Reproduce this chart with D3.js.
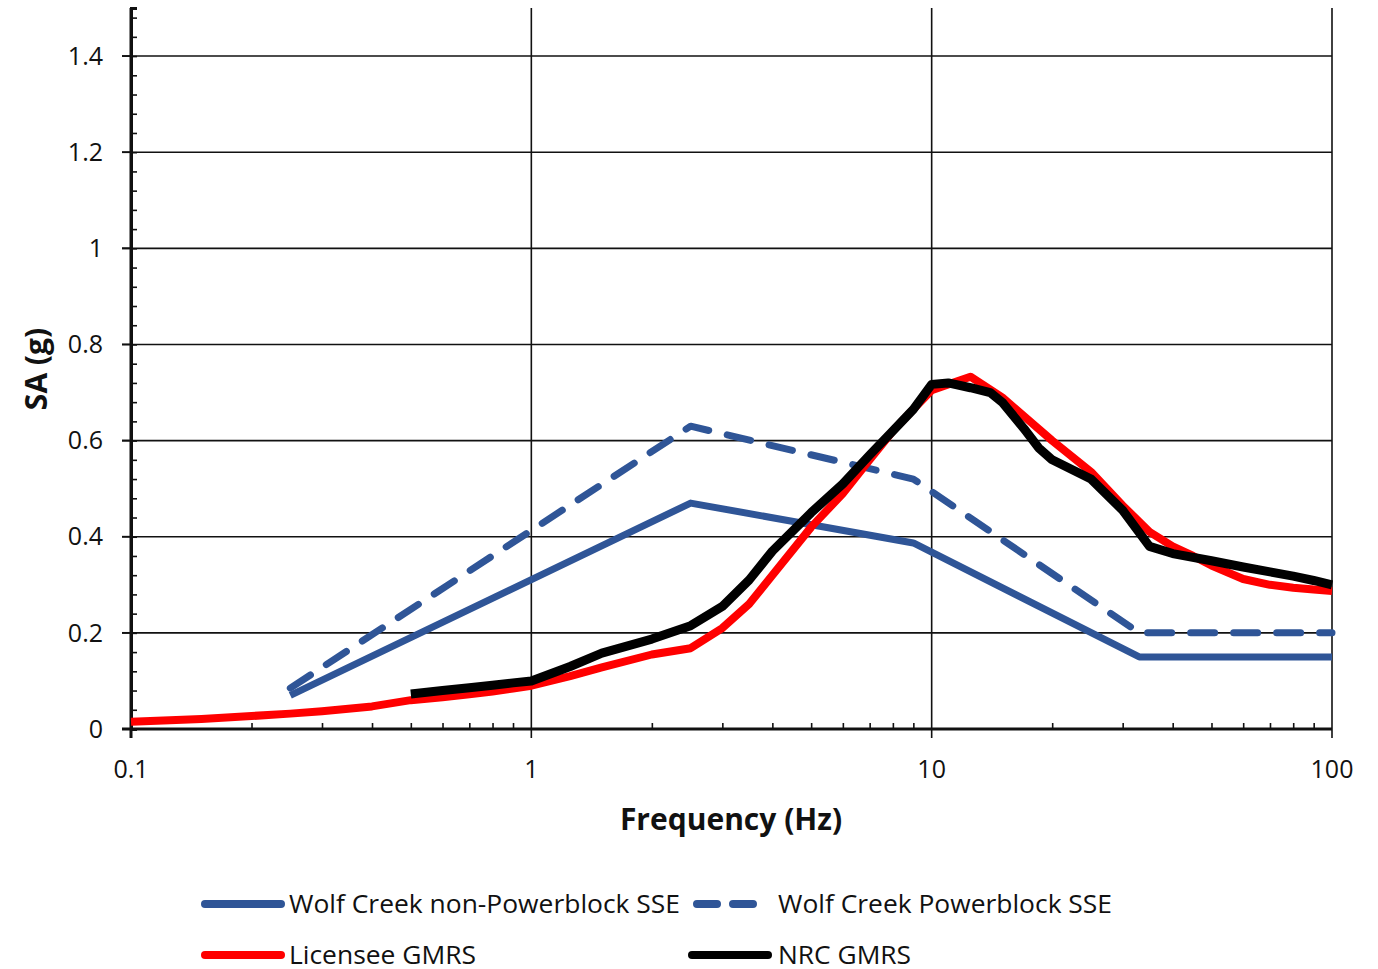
<!DOCTYPE html>
<html><head><meta charset="utf-8">
<script src="https://cdn.jsdelivr.net/npm/d3@7"></script>
<style>body{margin:0;background:#fff}svg{display:block}text{font-family:"Open Sans",sans-serif;fill:#111}</style>
</head><body><svg id="c" width="1378" height="969"></svg>
<script>
const xTickLabels = ["0.1","1","10","100"];
const yTickLabels = ["0","0.2","0.4","0.6","0.8","1","1.2","1.4"];
const seriesNames = ["Wolf Creek non-Powerblock SSE","Wolf Creek Powerblock SSE","Licensee GMRS","NRC GMRS"];

const nonPbFreq = [0.25, 2.5, 9, 33, 100];
const nonPbSA   = [0.07, 0.47, 0.387, 0.15, 0.15];
const pbFreq = [0.25, 2.5, 9, 33, 100];
const pbSA   = [0.085, 0.63, 0.52, 0.2, 0.2];
const licFreq = [0.1,0.125,0.15,0.2,0.25,0.3,0.4,0.5,0.6,0.7,0.8,0.9,1,1.25,1.5,2,2.5,3,3.5,4,5,6,7,8,9,10,12.5,15,20,25,30,35,40,45,50,60,70,80,90,100];
const licSA   = [0.015,0.018,0.021,0.027,0.032,0.037,0.047,0.06,0.066,0.072,0.078,0.084,0.09,0.11,0.128,0.155,0.168,0.21,0.26,0.32,0.42,0.49,0.56,0.62,0.665,0.705,0.733,0.69,0.6,0.535,0.465,0.41,0.38,0.36,0.34,0.312,0.3,0.294,0.29,0.287];
const nrcFreq = [0.5,0.6,0.7,0.8,0.9,1,1.25,1.5,2,2.5,3,3.5,4,5,6,7,8,9,10,11,12.5,14,15,17,18.5,20,25,30,35,40,50,60,70,80,90,100];
const nrcSA   = [0.073,0.08,0.086,0.091,0.096,0.1,0.13,0.158,0.187,0.215,0.255,0.31,0.37,0.45,0.51,0.57,0.62,0.665,0.717,0.72,0.71,0.7,0.68,0.625,0.585,0.56,0.52,0.455,0.38,0.365,0.35,0.337,0.327,0.318,0.309,0.3];

const svg = d3.select("#c");
const x = d3.scaleLog().domain([0.1,100]).range([131,1332]);
const y = d3.scaleLinear().domain([0,1.5]).range([729,8]);

// horizontal gridlines
const yMaj = yTickLabels.map(Number);
svg.append("g").selectAll("line").data(yMaj.filter(v=>v>0)).join("line")
  .attr("x1",122).attr("x2",x(100)).attr("y1",d=>y(d)).attr("y2",d=>y(d))
  .attr("stroke","#111").attr("stroke-width",1.6);
// vertical gridlines
svg.append("g").selectAll("line").data([1,10,100]).join("line")
  .attr("x1",d=>x(d)).attr("x2",d=>x(d)).attr("y1",y(1.5)).attr("y2",738)
  .attr("stroke","#111").attr("stroke-width",1.6);

// y axis
const yAxis = d3.axisRight(y).tickValues(d3.range(0,1.5001,0.04)).tickSize(6).tickFormat("");
const gy = svg.append("g").attr("transform","translate(131,0)").call(yAxis);
gy.select(".domain").attr("stroke","#111").attr("stroke-width",3);
gy.selectAll(".tick line").attr("stroke","#111").attr("stroke-width",1.6);
svg.append("g").selectAll("line").data(yMaj).join("line")
  .attr("x1",122).attr("x2",131).attr("y1",d=>y(d)).attr("y2",d=>y(d)).attr("stroke","#111").attr("stroke-width",1.8);
svg.append("g").selectAll("text").data(yTickLabels).join("text")
  .attr("x",103).attr("y",d=>y(+d)).attr("dy","0.35em").attr("text-anchor","end")
  .attr("font-size",25).text(d=>d);

// x axis
const minors = [];
[0.1,1,10].forEach(b=>{for(let k=2;k<=9;k++) minors.push(b*k);});
const xAxis = d3.axisTop(x).tickValues(minors).tickSize(6).tickFormat("");
const gx = svg.append("g").attr("transform","translate(0,729)").call(xAxis);
gx.select(".domain").attr("stroke","#111").attr("stroke-width",3).attr("d","M122,0H"+x(100));
gx.selectAll(".tick line").attr("stroke","#111").attr("stroke-width",1.6);
svg.append("line").attr("x1",x(0.1)).attr("x2",x(0.1)).attr("y1",y(1.5)).attr("y2",738).attr("stroke","#111").attr("stroke-width",3);
svg.append("g").selectAll("text").data(xTickLabels).join("text")
  .attr("x",d=>x(+d)).attr("y",778).attr("text-anchor","middle").attr("font-size",25).text(d=>d);

// axis titles
svg.append("text").attr("x",731).attr("y",830).attr("text-anchor","middle")
  .attr("font-size",30).attr("font-weight","bold").text("Frequency (Hz)");
svg.append("text").attr("transform","translate(47,369) rotate(-90)").attr("text-anchor","middle")
  .attr("font-size",30).attr("font-weight","bold").text("SA (g)");

// series
const line = d3.line().x(d=>x(d[0])).y(d=>y(d[1]));
const zip = (a,b)=>a.map((v,i)=>[v,b[i]]);
const blue = "#2F5597";
svg.append("path").attr("d",line(zip(nonPbFreq,nonPbSA))).attr("fill","none")
  .attr("stroke",blue).attr("stroke-width",7).attr("stroke-linejoin","round");
svg.append("path").attr("d",line(zip(pbFreq,pbSA))).attr("fill","none")
  .attr("stroke",blue).attr("stroke-width",7).attr("stroke-linejoin","round")
  .attr("stroke-linecap","round").attr("stroke-dasharray","24,19");
svg.append("path").attr("d",line(zip(licFreq,licSA))).attr("fill","none")
  .attr("stroke","#FF0000").attr("stroke-width",8).attr("stroke-linejoin","round");
svg.append("path").attr("d",line(zip(nrcFreq,nrcSA))).attr("fill","none")
  .attr("stroke","#000").attr("stroke-width",9).attr("stroke-linejoin","round");

// legend
const leg = [
  {name:seriesNames[0], x0:205, x1:281, y:904, color:blue, dash:null, tx:289, w:391},
  {name:seriesNames[1], x0:697, x1:762, y:904, color:blue, dash:"20,16", tx:778, w:334},
  {name:seriesNames[2], x0:205, x1:281, y:955, color:"#FF0000", dash:null, tx:289, w:187},
  {name:seriesNames[3], x0:692, x1:768, y:955, color:"#000", dash:null, tx:778, w:133}
];
const lg = svg.append("g");
leg.forEach(d=>{
  lg.append("line").attr("x1",d.x0).attr("x2",d.x1).attr("y1",d.y).attr("y2",d.y)
    .attr("stroke",d.color).attr("stroke-width",8).attr("stroke-linecap","round")
    .attr("stroke-dasharray",d.dash);
  lg.append("text").attr("x",d.tx).attr("y",d.y+8.5).attr("font-size",25)
    .attr("textLength",d.w).attr("lengthAdjust","spacingAndGlyphs").text(d.name);
});
</script></body></html>
